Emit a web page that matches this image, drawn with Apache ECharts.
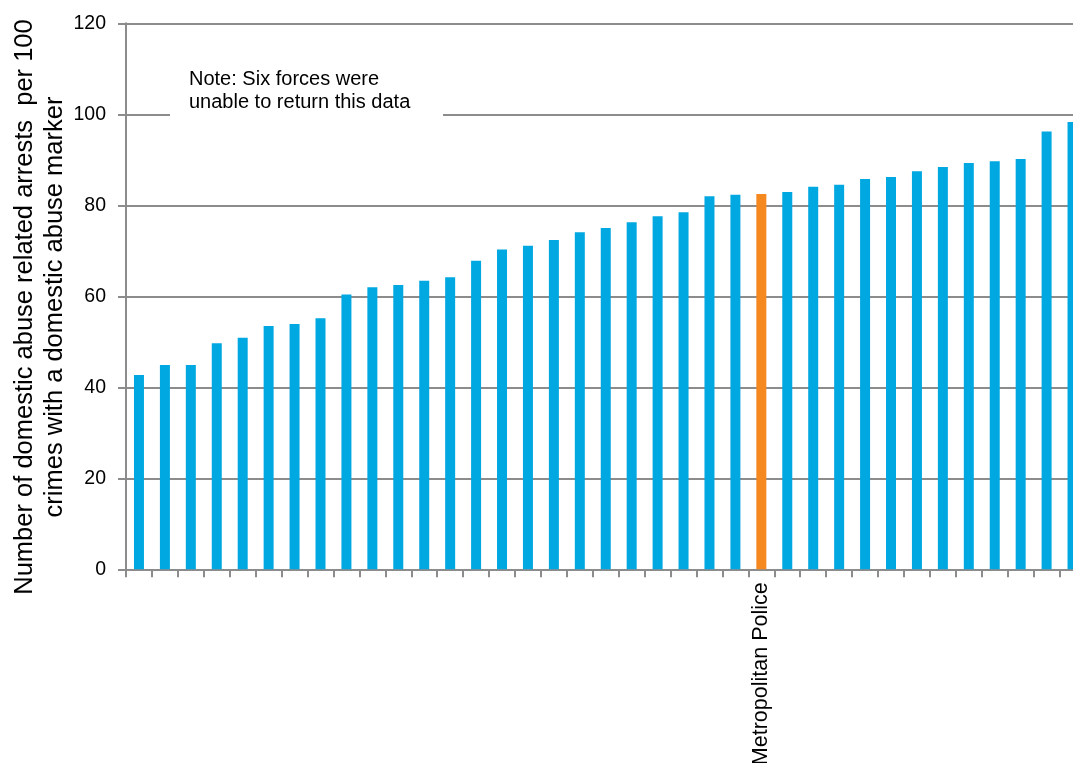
<!DOCTYPE html>
<html>
<head>
<meta charset="utf-8">
<style>
  html, body { margin: 0; padding: 0; background: #fff; overflow: hidden; }
  #chart { width: 1073px; height: 763px; }
</style>
<script src="https://cdn.jsdelivr.net/npm/echarts@6/dist/echarts.min.js"></script>
</head>
<body>
<div id="chart"></div>
<script>
// Police forces, ordered by rate; only the Metropolitan Police is named on the axis
const forces = [
  '', '', '', '', '', '', '', '', '', '', '', '', '',
  '', '', '', '', '', '', '', '', '', '', '',
  'Metropolitan Police',
  '', '', '', '', '', '', '', '', '', '', '', ''
];

// Domestic abuse related arrests per 100 crimes with a domestic abuse marker
const arrestsPer100 = [
  42.7, 44.9, 44.9, 49.7, 50.9, 53.5, 53.9, 55.2, 60.4,
  62.0, 62.5, 63.4, 64.2, 67.8, 70.3, 71.1, 72.4, 74.1, 75.0, 76.3, 77.6, 78.5,
  82.0, 82.3, 82.5, 82.9, 84.1, 84.5, 85.8, 86.2, 87.5, 88.4, 89.3, 89.7, 90.2, 96.2, 98.3
];

const yTicks = { min: 0, max: 120, interval: 20 };
const highlightForce = 'Metropolitan Police';

const BLUE = '#00a8e1';
const ORANGE = '#f5891f';
const GRID = '#8c8c8c';
const FONT = '"Liberation Sans", Arial, sans-serif';

const chart = echarts.init(document.getElementById('chart'));

chart.setOption({
  animation: false,
  backgroundColor: '#ffffff',
  // plot runs slightly past the right edge of the canvas, so the last bar is clipped
  grid: {
    left: 126, top: 23.3, width: 959.5, height: 546,
    containLabel: false, outerBoundsMode: 'none'
  },
  xAxis: {
    type: 'category',
    data: forces,
    boundaryGap: true,
    axisLine: { show: true, lineStyle: { color: GRID, width: 2 } },
    axisTick: { show: true, interval: 0, length: 8, lineStyle: { color: GRID, width: 2 } },
    axisLabel: {
      interval: 0, rotate: 90, margin: 13,
      color: '#000', fontFamily: FONT, fontSize: 21.5
    },
    splitLine: { show: false }
  },
  yAxis: {
    type: 'value',
    min: yTicks.min, max: yTicks.max, interval: yTicks.interval,
    axisLine: { show: true, lineStyle: { color: GRID, width: 2 } },
    axisTick: { show: true, length: 8, lineStyle: { color: GRID, width: 2 } },
    axisLabel: { margin: 20, color: '#000', fontFamily: FONT, fontSize: 19.5 },
    splitLine: { show: true, lineStyle: { color: GRID, width: 2 } }
  },
  series: [{
    type: 'bar',
    barWidth: 10,
    data: arrestsPer100.map((v, i) => ({
      value: v,
      itemStyle: { color: forces[i] === highlightForce ? ORANGE : BLUE }
    }))
  }],
  graphic: [
    {
      // white panel behind the note interrupts the 100 gridline
      type: 'rect', z: 100,
      shape: { x: 170, y: 62, width: 273, height: 60 },
      style: { fill: '#ffffff' }
    },
    {
      type: 'text', z: 101,
      left: 189, top: 68,
      style: {
        text: 'Note: Six forces were\nunable to return this data',
        font: '20px ' + FONT,
        fill: '#000',
        lineHeight: 23
      }
    },
    {
      type: 'text', z: 101,
      x: 40, y: 307, rotation: Math.PI / 2,
      style: {
        text: 'Number of domestic abuse related arrests  per 100\ncrimes with a domestic abuse marker',
        font: '25.5px ' + FONT,
        fill: '#000',
        align: 'center',
        verticalAlign: 'middle',
        lineHeight: 30
      }
    }
  ]
});
</script>
</body>
</html>
